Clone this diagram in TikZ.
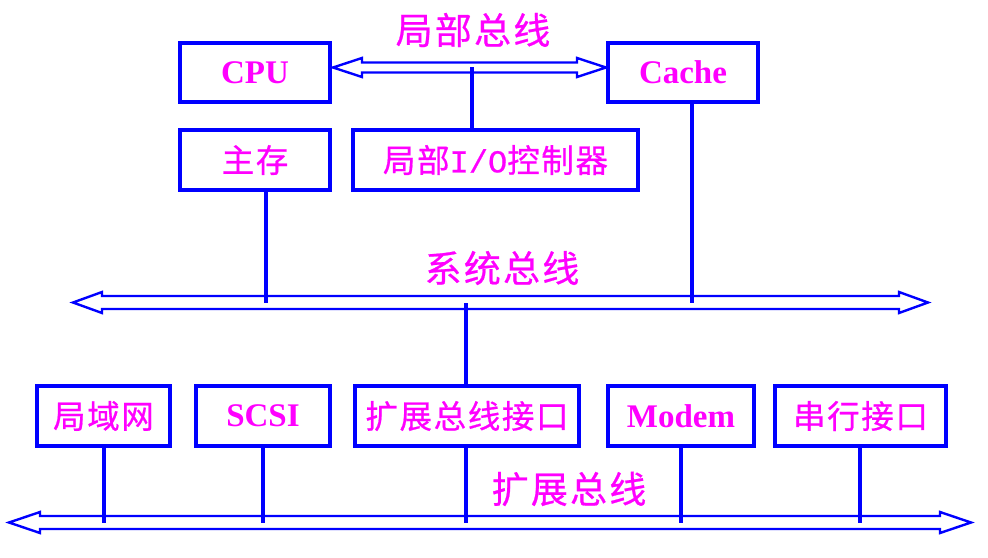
\documentclass[tikz,border=0pt]{standalone}
\usepackage{fontspec}
\setmainfont{Liberation Serif}
\newfontfamily\cjk[LetterSpace=5,FakeBold=0.6]{Noto Sans CJK SC}
\newfontfamily\cjklab[LetterSpace=6,FakeBold=0.6]{Noto Sans CJK SC}
\newfontfamily\monof[FakeBold=0.6]{Liberation Mono}
\usetikzlibrary{calc}
\definecolor{bl}{RGB}{0,0,255}
\definecolor{mg}{RGB}{255,0,255}
\newcommand\busarrow[6]{%
  \draw[busline] (#1,#3) -- ({#1+#6},{#3-#5}) -- ({#1+#6},{#3-#4}) -- ({#2-#6},{#3-#4})
    -- ({#2-#6},{#3-#5}) -- (#2,#3) -- ({#2-#6},{#3+#5}) -- ({#2-#6},{#3+#4})
    -- ({#1+#6},{#3+#4}) -- ({#1+#6},{#3+#5}) -- cycle;}
\tikzset{
  box/.style={draw=bl, line width=4pt, inner sep=0pt, text=mg, minimum height=59pt},
  lat/.style={font=\fontsize{33}{33}\selectfont\bfseries},
  zh/.style={font=\fontsize{32.5}{32.5}\selectfont\cjk},
  lab/.style={text=mg, font=\fontsize{37}{37}\selectfont\cjklab, inner sep=0pt},
  busline/.style={draw=bl, line width=2.4pt, fill=white, line join=miter},
  stub/.style={draw=bl, line width=4pt}
}
\begin{document}
\begin{tikzpicture}[x=1pt,y=-1pt]
\useasboundingbox (0,0) rectangle (988,557);
% boxes
\node[box,lat,minimum width=150pt] (cpu) at (255,72.5) {CPU};
\node[box,lat,minimum width=150pt] (cache) at (683,72.5) {Cache};
\node[box,zh,minimum width=150pt,minimum height=60pt] (mem) at (255,160) {主存};
\node[box,zh,minimum width=285pt,minimum height=60pt] (lio) at (495.5,160) {局部{\monof\fontsize{32}{32}\selectfont I/O}控制器};
\node[box,zh,minimum width=133pt,minimum height=60pt] (lan) at (103.5,416) {局域网};
\node[box,lat,minimum width=134pt,minimum height=60pt] (scsi) at (263,416) {SCSI};
\node[box,zh,minimum width=224pt,minimum height=60pt] (ebi) at (467,416) {扩展总线接口};
\node[box,lat,minimum width=146pt,minimum height=60pt] (modem) at (681,416) {Modem};
\node[box,zh,minimum width=171pt,minimum height=60pt] (ser) at (860.5,416) {串行接口};
% bus labels
\node[lab] (l1) at (473,30) {局部总线};
\node[lab] (l2) at (502,268) {系统总线};
\node[lab] (l3) at (569,489) {扩展总线};
% buses
\busarrow{333}{606}{67.5}{5}{9.5}{29}
\busarrow{73}{928}{302.5}{6.5}{10.5}{29}
\busarrow{9}{971}{522.5}{6.5}{10.5}{31}
\coordinate (lbus) at (0,67);
\coordinate (sbus) at (0,302.5);
\coordinate (ebus) at (0,522.5);
% stubs
\draw[stub] ($(lio.north)+(-23.5,0)$) coordinate (a1) -- (a1 |- lbus);
\draw[stub] ($(mem.south)+(11,0)$) coordinate (a2) -- (a2 |- sbus);
\draw[stub] ($(cache.south)+(9,0)$) coordinate (a3) -- (a3 |- sbus);
\draw[stub] ($(ebi.north)+(-1,0)$) coordinate (a4) -- (a4 |- sbus);
\draw[stub] ($(lan.south)+(0.5,0)$) coordinate (b1) -- (b1 |- ebus);
\draw[stub] (scsi.south) -- (scsi.south |- ebus);
\draw[stub] ($(ebi.south)+(-1,0)$) coordinate (b3) -- (b3 |- ebus);
\draw[stub] (modem.south) -- (modem.south |- ebus);
\draw[stub] ($(ser.south)+(-0.5,0)$) coordinate (b5) -- (b5 |- ebus);
\end{tikzpicture}
\end{document}
